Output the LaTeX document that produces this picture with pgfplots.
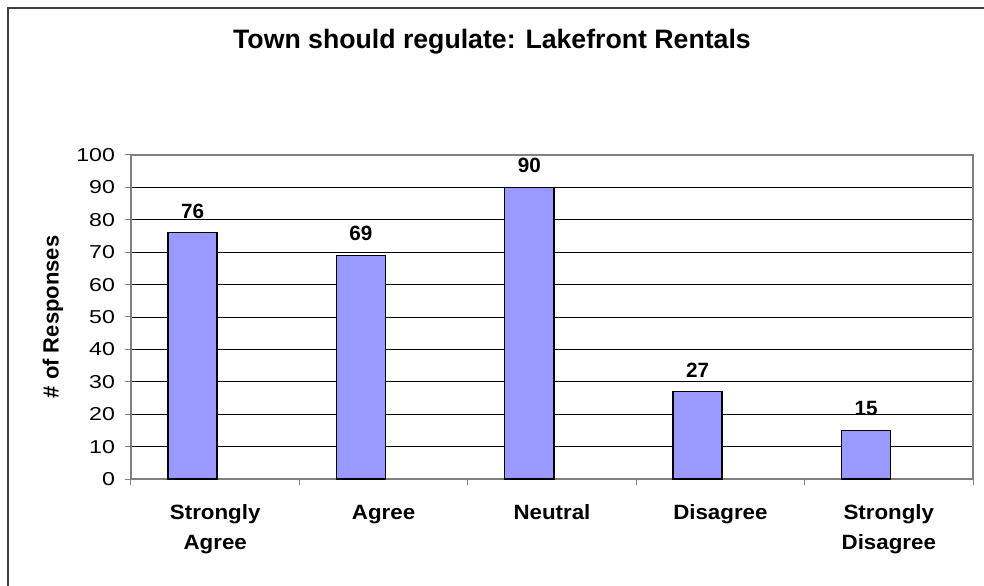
\documentclass[border=0pt]{standalone}
\usepackage{pgfplots}
\pgfplotsset{compat=1.18}
\usepackage{fontspec}
\setmainfont{Liberation Sans}
\definecolor{barfill}{RGB}{153,153,255}
\definecolor{framegray}{RGB}{128,128,128}
% tick numbers in the reference are wider than Arial
\newcommand{\sx}[1]{\scalebox{1.24}[1]{#1}}
\newcommand{\cat}[1]{\scalebox{1.08}[1]{\def\arraystretch{1.21}\begin{tabular}{@{}c@{}}#1\end{tabular}}}

\begin{document}
\begin{tikzpicture}
\useasboundingbox (-98.25pt,-79.5pt) rectangle (639.75pt,359.25pt);
\draw[line width=1.5pt, color=black!75] (-92.25pt,-90pt) -- (-92.25pt,353pt) -- (650pt,353pt);
\begin{axis}[
    at={(0,0)}, anchor=south west,
    scale only axis, width=631.5pt, height=243pt,
    xmin=0.5, xmax=5.5, ymin=0, ymax=100,
    ytick={0,10,...,100},
    xtick={1,2,3,4,5},
    xticklabels={\cat{Strongly\\Agree},\cat{Agree},\cat{Neutral},\cat{Disagree},\cat{Strongly\\Disagree}},
    minor xtick={0.5,1.5,2.5,3.5,4.5,5.5},
    major x tick style={draw=none},
    xtick pos=bottom, ytick pos=left,
    tick align=outside,
    major tick length=4.5pt, minor tick length=4.5pt,
    tick style={color=framegray, line width=0.75pt},
    ymajorgrids,
    grid style={black, line width=0.6pt},
    axis line style={framegray, line width=1pt},
    /pgf/number format/assume math mode=true,
    yticklabel={\sx{\pgfmathprintnumber{\tick}}},
    yticklabel style={font=\fontsize{14}{16}\selectfont, xshift=-4pt},
    xticklabel style={font=\fontsize{15.5}{18.6}\selectfont\bfseries, anchor=north, yshift=-6.5pt},
    ylabel={\# of Responses},
    ylabel style={font=\fontsize{16.5}{19}\selectfont\bfseries, at={(axis description cs:-0.0926,0.5)}, anchor=center, rotate=0},
    title={Town should regulate: Lakefront Rentals},
    title style={font=\fontsize{20}{24}\selectfont\bfseries, at={(axis description cs:0.4287,1.305)}, anchor=base, yshift=0pt},
    nodes near coords={\pgfmathprintnumber{\pgfplotspointmeta}},
    nodes near coords style={font=\fontsize{15.5}{18}\selectfont\bfseries, anchor=south, xshift=-17pt, yshift=7pt},
]
\addplot[ybar, bar width=0.291, bar shift=-0.135, fill=barfill, draw=black, line width=1.1pt]
    coordinates {(1,76) (2,69) (3,90) (4,27) (5,15)};
\end{axis}
\end{tikzpicture}
\end{document}
